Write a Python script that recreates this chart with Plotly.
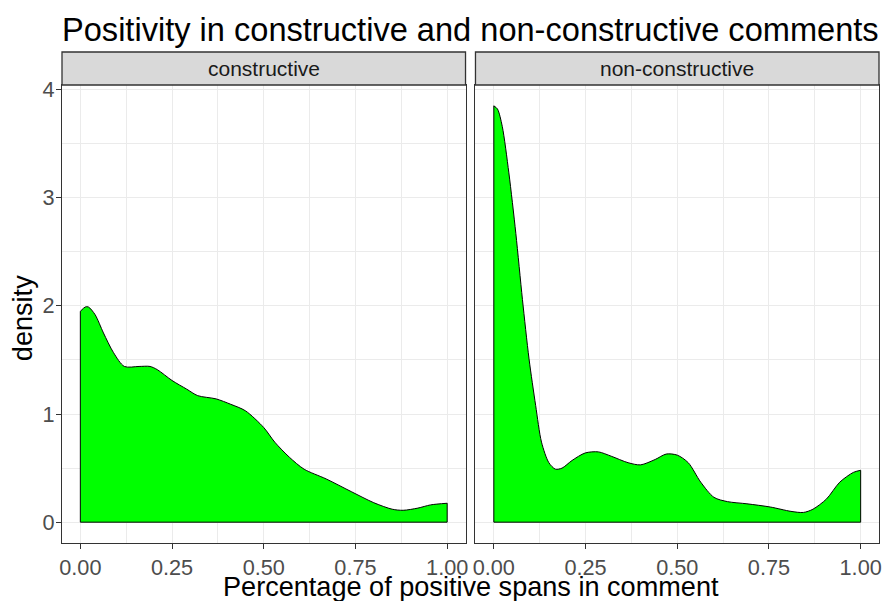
import plotly.graph_objects as go

# ---------------- data ----------------
panels = ["constructive", "non-constructive"]

cons_x = [0.0, 0.0135, 0.022, 0.04, 0.063, 0.09, 0.12, 0.16, 0.19, 0.21, 0.25, 0.29,
          0.32, 0.37, 0.41, 0.45, 0.50, 0.53, 0.57, 0.61, 0.67, 0.74, 0.80, 0.85,
          0.88, 0.92, 0.955, 1.0]
cons_y = [1.95, 1.99, 1.99, 1.92, 1.75, 1.57, 1.44, 1.44, 1.44, 1.41, 1.31, 1.23,
          1.17, 1.14, 1.09, 1.03, 0.875, 0.74, 0.60, 0.49, 0.40, 0.28, 0.18, 0.12,
          0.11, 0.13, 0.16, 0.175]

non_x = [0.0, 0.01, 0.023, 0.041, 0.06, 0.078, 0.096, 0.114, 0.13, 0.15, 0.168, 0.186,
         0.213, 0.249, 0.285, 0.32, 0.366, 0.40, 0.44, 0.47, 0.50, 0.53, 0.564, 0.60,
         0.637, 0.69, 0.754, 0.81, 0.844, 0.87, 0.907, 0.943, 0.98, 1.0]
non_y = [3.85, 3.82, 3.66, 3.23, 2.67, 2.06, 1.51, 1.08, 0.74, 0.55, 0.49, 0.50,
         0.57, 0.64, 0.65, 0.61, 0.55, 0.53, 0.58, 0.63, 0.62, 0.55, 0.37, 0.23,
         0.19, 0.17, 0.14, 0.10, 0.09, 0.12, 0.215, 0.37, 0.46, 0.48]

x_ticks = [0.0, 0.25, 0.5, 0.75, 1.0]
x_tick_labels = ["0.00", "0.25", "0.50", "0.75", "1.00"]
y_ticks = [0, 1, 2, 3, 4]
y_tick_labels = ["0", "1", "2", "3", "4"]

title_text = "Positivity in constructive and non-constructive comments"
x_title = "Percentage of positive spans in comment"
y_title = "density"

# ---------------- styling ----------------
W, H = 885, 601
ML, MR, MT, MB = 62, 3, 85, 58
FONT = "Liberation Sans, Arial, sans-serif"
BORDER = "#333333"
GRID = "#EBEBEB"
plot_w = W - ML - MR
plot_h = H - MT - MB
gap = 10  # px between panels
d1 = ((plot_w - gap) / 2) / plot_w
d2 = 1 - d1
strip_h = 33 / plot_h

fig = go.Figure()

series = [(cons_x, cons_y, "x", "y"), (non_x, non_y, "x2", "y2")]
for xs, ys, xa, ya in series:
    fig.add_trace(go.Scatter(
        x=xs, y=ys, xaxis=xa, yaxis=ya, mode="lines", fill="tozeroy",
        fillcolor="#00FF00", line=dict(color="black", width=1, shape="spline", smoothing=0.8),
        hoverinfo="skip", showlegend=False))
    fig.add_trace(go.Scatter(
        x=[xs[0], xs[0], xs[-1], xs[-1]], y=[ys[0], 0, 0, ys[-1]],
        xaxis=xa, yaxis=ya, mode="lines", line=dict(color="black", width=1),
        hoverinfo="skip", showlegend=False))

xr = [-0.05, 1.05]
ymax = max(max(cons_y), max(non_y))
yr = [-0.05 * ymax, ymax * 1.05]

xcommon = dict(range=xr, tickvals=x_ticks, ticktext=x_tick_labels, showgrid=True,
               gridcolor=GRID, gridwidth=1.1, zeroline=False, showline=True,
               linecolor=BORDER, linewidth=1.3, mirror=True, ticks="outside",
               ticklen=5, tickcolor=BORDER, tickwidth=1.1, ticklabelstandoff=0,
               tickfont=dict(family=FONT, size=21.7, color="#4D4D4D"),
               minor=dict(dtick=0.25, tick0=0.125, showgrid=True, gridcolor=GRID,
                          gridwidth=0.6, ticks=""))
ycommon = dict(range=yr, tickvals=y_ticks, ticktext=y_tick_labels, showgrid=True,
               gridcolor=GRID, gridwidth=1.1, zeroline=False, showline=True,
               linecolor=BORDER, linewidth=1.3, mirror=True,
               minor=dict(dtick=1, tick0=0.5, showgrid=True, gridcolor=GRID,
                          gridwidth=0.6, ticks=""))

fig.update_layout(
    width=W, height=H, margin=dict(l=ML, r=MR, t=MT, b=MB),
    paper_bgcolor="white", plot_bgcolor="white",
    xaxis=dict(domain=[0, d1], anchor="y", **xcommon),
    xaxis2=dict(domain=[d2, 1], anchor="y2", **xcommon),
    yaxis=dict(anchor="x", ticks="outside", ticklen=5, tickcolor=BORDER, tickwidth=1.1,
               ticklabelstandoff=-3,
               tickfont=dict(family=FONT, size=21.7, color="#4D4D4D"), **ycommon),
    yaxis2=dict(anchor="x2", matches="y", showticklabels=False, ticks="", **ycommon),
    title=dict(text=title_text, x=ML / W, xanchor="left", y=1 - 30 / H, yanchor="middle",
               font=dict(family=FONT, size=32.6, color="black")),
    showlegend=False,
)

# facet strips
for i, (name, xa) in enumerate(zip(panels, ["x", "x2"])):
    fig.add_shape(type="rect", xref=f"{xa} domain", yref="paper", x0=0, x1=1,
                  y0=1, y1=1 + strip_h, fillcolor="#D9D9D9",
                  line=dict(color=BORDER, width=1.3), layer="above")
    fig.add_annotation(text=name, xref=f"{xa} domain", yref="paper", x=0.5,
                       y=1 + strip_h / 2, xanchor="center", yanchor="middle",
                       showarrow=False, font=dict(family=FONT, size=21, color="#1A1A1A"))

# axis titles
fig.add_annotation(text=x_title, xref="paper", yref="paper", x=0.5,
                   y=-(586 - (H - MB)) / plot_h, xanchor="center", yanchor="middle",
                   showarrow=False, font=dict(family=FONT, size=27.1, color="black"))
fig.add_annotation(text=y_title, xref="paper", yref="paper", x=-(ML - 22) / plot_w,
                   y=0.5 - 4 / plot_h, xanchor="center", yanchor="middle", textangle=-90,
                   showarrow=False, font=dict(family=FONT, size=27.1, color="black"))

fig.write_html("out.html")
